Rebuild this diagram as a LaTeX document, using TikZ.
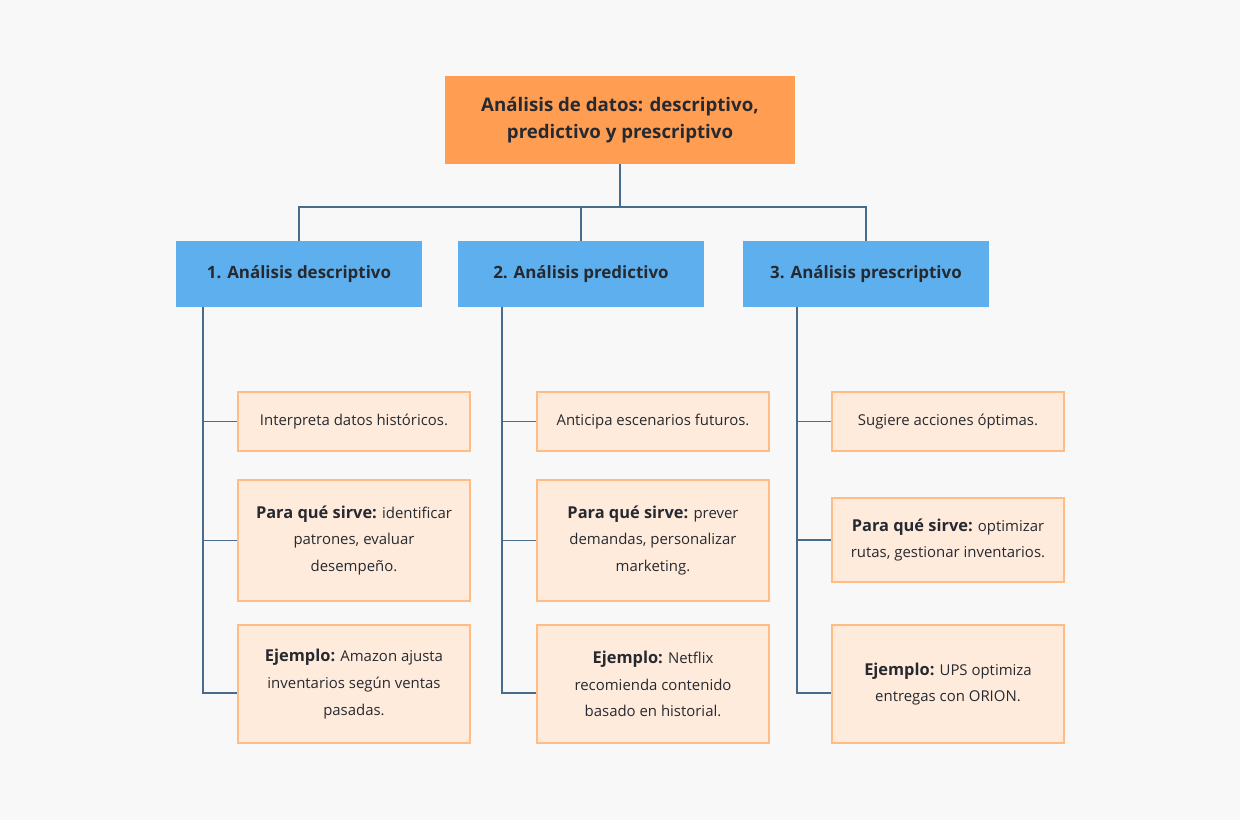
\documentclass[tikz,border=0pt]{standalone}
\usepackage{fontspec}
\setmainfont{Open Sans}
\usetikzlibrary{positioning}
\definecolor{bgcol}{HTML}{F8F8F8}
\definecolor{rootcol}{HTML}{FF9D52}
\definecolor{typecol}{HTML}{5DAFEE}
\definecolor{leafcol}{HTML}{FFEBDC}
\definecolor{leafline}{HTML}{FFBC85}
\definecolor{linkcol}{HTML}{4A6C8C}
\definecolor{inkcol}{HTML}{262A30}
\newcommand{\leadin}[1]{{\fontsize{12.3}{20}\selectfont\bfseries #1}}
\tikzset{
  rootbox/.style={fill=rootcol, text=inkcol, font=\fontsize{14}{20.25}\selectfont\bfseries,
    minimum width=262.5pt, minimum height=66pt, align=center, inner sep=0pt},
  typebox/.style={fill=typecol, text=inkcol, font=\fontsize{12.7}{18}\selectfont\bfseries,
    minimum width=184.5pt, minimum height=49.5pt, inner sep=0pt},
  leafbox/.style={fill=leafcol, draw=leafline, line width=0.9pt, text=inkcol,
    font=\fontsize{11.2}{20}\selectfont, minimum width=174pt, align=center, inner sep=0pt},
  link/.style={draw=linkcol, line width=0.9pt}
}
\begin{document}
\begin{tikzpicture}[x=0.75pt, y=-0.75pt]
  \fill[bgcol] (0,0) rectangle (1240,820);
  % title
  \node[rootbox] (root) at (620,120) {Análisis de datos: descriptivo,\\predictivo y prescriptivo};
  % three kinds
  \node[typebox] (desc) at (299,274) {1. Análisis descriptivo};
  \node[typebox] (pred) at (581,274) {2. Análisis predictivo};
  \node[typebox] (pres) at (866,274) {3. Análisis prescriptivo};
  % descriptivo
  \node[leafbox, minimum height=44.25pt] (desc1) at (354,421.5) {Interpreta datos históricos.};
  \node[leafbox, minimum height=90.75pt] (desc2) at (354,540.5)
    {\leadin{Para qué sirve:} identificar\\patrones, evaluar\\desempeño.};
  \node[leafbox, minimum height=88.5pt] (desc3) at (354,684)
    {\leadin{Ejemplo:} Amazon ajusta\\inventarios según ventas\\pasadas.};
  % predictivo
  \node[leafbox, minimum height=44.25pt] (pred1) at (653,421.5) {Anticipa escenarios futuros.};
  \node[leafbox, minimum height=90.75pt] (pred2) at (653,540.5)
    {\leadin{Para qué sirve:} prever\\demandas, personalizar\\marketing.};
  \node[leafbox, minimum height=88.5pt] (pred3) at (653,684)
    {\leadin{Ejemplo:} Netflix\\recomienda contenido\\basado en historial.};
  % prescriptivo
  \node[leafbox, minimum height=44.25pt] (pres1) at (948,421.5) {Sugiere acciones óptimas.};
  \node[leafbox, minimum height=63pt] (pres2) at (948,540)
    {\leadin{Para qué sirve:} optimizar\\rutas, gestionar inventarios.};
  \node[leafbox, minimum height=88.5pt] (pres3) at (948,684)
    {\leadin{Ejemplo:} UPS optimiza\\entregas con ORION.};
  % connectors
  \coordinate (bus) at (620,207);
  \coordinate (descsp) at (203,693);
  \coordinate (predsp) at (502,693);
  \coordinate (pressp) at (797,693);
  \draw[link] (root.south) -- (bus);
  \draw[link] (desc.north) |- (bus) -| (pres.north);
  \draw[link] (pred.north) -- (pred.north |- bus);
  \draw[link] (descsp |- desc.south) -- (descsp) -- (descsp -| desc3.west);
  \draw[link] (descsp |- desc1.west) -- (desc1.west);
  \draw[link] (descsp |- desc2.west) -- (desc2.west);
  \draw[link] (predsp |- pred.south) -- (predsp) -- (predsp -| pred3.west);
  \draw[link] (predsp |- pred1.west) -- (pred1.west);
  \draw[link] (predsp |- pred2.west) -- (pred2.west);
  \draw[link] (pressp |- pres.south) -- (pressp) -- (pressp -| pres3.west);
  \draw[link] (pressp |- pres1.west) -- (pres1.west);
  \draw[link] (pressp |- pres2.west) -- (pres2.west);
\end{tikzpicture}
\end{document}
